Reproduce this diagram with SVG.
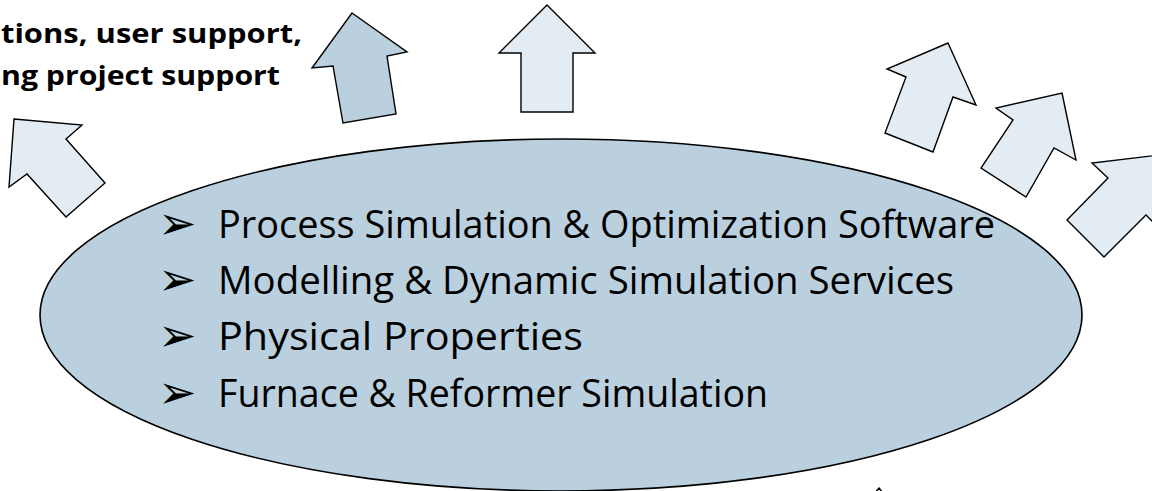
<svg xmlns="http://www.w3.org/2000/svg" width="1152" height="491" viewBox="0 0 1152 491">
<style>
.arr{fill:#E3EBF3;stroke:#000;stroke-width:1.4;stroke-linejoin:miter}
.arrd{fill:#BBD0DF;stroke:#000;stroke-width:1.4}
.ell{fill:#BBD0DF;stroke:#000;stroke-width:1.6}
.hd{font-family:"Open Sans","Liberation Sans",sans-serif;font-weight:bold;font-size:27px;fill:#000}
.it{font-family:"Open Sans","Liberation Sans",sans-serif;font-size:38px;fill:#000}
.bl{font-family:"DejaVu Sans",sans-serif;font-size:46px;fill:#000}
</style>
<rect width="1152" height="491" fill="#fff"/>
<g id="connectors">
<polygon id="arrowA" class="arr" points="14,119 82,125 66,139 105,183 66,217 27,174 9,187"/>
<polygon id="arrowB" class="arrd" points="352,13 407,52 387,56 396,114 343,123 333,66 312,68"/>
<polygon id="arrowC" class="arr" points="547,5 595,53 573,53 573,112 521,112 521,53 499,53"/>
<polygon id="arrowD" class="arr" points="948,43 976,105 953,97 933,152 885,133 906,77 887,69"/>
<polygon id="arrowE" class="arr" points="1062,93 1076,160 1054,148 1026,197 981,168 1013,120 996,108"/>
<polygon id="arrowF" class="arr" points="1168,154 1161,230 1146,215 1104,257 1067,220 1108,178 1092,163"/>
<polygon id="arrowG" class="arr" points="879,488 905,520 890,520 890,560 860,560 860,520 852,520"/>
</g>
<g id="hub">
<ellipse class="ell" cx="561" cy="315" rx="521" ry="176"/>
<text class="bl" x="158" y="239">➢</text>
<text class="bl" x="158" y="295">➢</text>
<text class="bl" x="158" y="351">➢</text>
<text class="bl" x="158" y="408">➢</text>
<text class="it" x="218" y="238" textLength="777" lengthAdjust="spacingAndGlyphs">Process Simulation &amp; Optimization Software</text>
<text class="it" x="218" y="294" textLength="736" lengthAdjust="spacingAndGlyphs">Modelling &amp; Dynamic Simulation Services</text>
<text class="it" x="218" y="350" textLength="365" lengthAdjust="spacingAndGlyphs">Physical Properties</text>
<text class="it" x="218" y="407" textLength="550" lengthAdjust="spacingAndGlyphs">Furnace &amp; Reformer Simulation</text>
</g>
<g id="label">
<text class="hd" x="1" y="43" textLength="301" lengthAdjust="spacingAndGlyphs">tions, user support,</text>
<text class="hd" x="1" y="85" textLength="279" lengthAdjust="spacingAndGlyphs">ng project support</text>
</g>
</svg>
